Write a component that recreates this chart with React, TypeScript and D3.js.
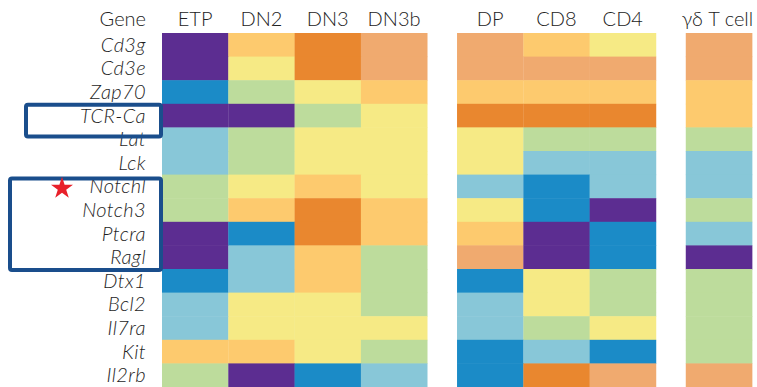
import * as d3 from 'd3';
import React, {useEffect, useRef} from 'react';

// expression level per gene, 0 = lowest (purple) .. 7 = highest (orange)
const stages = ["ETP", "DN2", "DN3", "DN3b", "DP", "CD8", "CD4", "γδ T cell"];
const stageGroup = [0, 0, 0, 0, 1, 1, 1, 2];
const genes = ["Cd3g", "Cd3e", "Zap70", "TCR-Ca", "Lat", "Lck", "Notchl", "Notch3", "Ptcra", "Ragl", "Dtx1", "Bcl2", "Il7ra", "Kit", "Il2rb"];

const levels = [
  [0, 5, 7, 6, 6, 5, 4, 6],
  [0, 4, 7, 6, 6, 6, 6, 6],
  [1, 3, 4, 5, 5, 5, 5, 5],
  [0, 0, 3, 4, 7, 7, 7, 5],
  [2, 3, 4, 4, 4, 3, 3, 3],
  [2, 3, 4, 4, 4, 2, 2, 2],
  [3, 4, 5, 4, 2, 1, 2, 2],
  [3, 5, 7, 5, 4, 1, 0, 3],
  [0, 1, 7, 5, 5, 0, 1, 2],
  [0, 2, 5, 3, 6, 0, 1, 0],
  [1, 2, 5, 3, 1, 4, 3, 3],
  [2, 4, 4, 3, 2, 4, 3, 3],
  [2, 4, 4, 4, 2, 3, 4, 3],
  [5, 5, 4, 3, 1, 2, 1, 3],
  [3, 0, 1, 2, 1, 7, 6, 6],
];

const palette = ["#5c2d91", "#1b8bc7", "#88c7d8", "#bddc9c", "#f6ea85", "#fdca6e", "#f0aa6f", "#e9872f"];

const boxedGenes = [["TCR-Ca", "TCR-Ca"], ["Notchl", "Ragl"]];
const starGene = "Notchl";

const App = () => {
  const ref = useRef(null);

  useEffect(() => {
    const svg = d3.select(ref.current);
    svg.selectAll("*").remove();

    const gap = 0.45;
    const x = d3.scaleLinear().domain([0, 1]).range([162, 228.3]);
    const colPos = (i) => i + stageGroup[i] * gap;
    const cw = x(1) - x(0);

    const y = d3.scaleBand().domain(genes).range([33, 387]).padding(0);
    const color = d3.scaleOrdinal().domain(d3.range(palette.length)).range(palette);

    const font = "Lato, 'Open Sans', sans-serif";

    // cells
    const cells = [];
    levels.forEach((row, r) => row.forEach((v, c) => cells.push({gene: genes[r], c, v})));
    svg.append("g").selectAll("rect").data(cells).enter().append("rect")
      .attr("x", d => x(colPos(d.c)))
      .attr("y", d => y(d.gene))
      .attr("width", cw + 0.3)
      .attr("height", y.bandwidth() + 0.5)
      .attr("fill", d => color(d.v));

    // column headers
    svg.append("g").selectAll("text").data(stages).enter().append("text")
      .attr("x", (d, i) => i === 7 ? x(colPos(i)) - 4 : x(colPos(i) + 0.5))
      .attr("y", 26)
      .attr("text-anchor", (d, i) => i === 7 ? "start" : "middle")
      .attr("font-family", font)
      .attr("font-size", 20)
      .attr("font-weight", 300)
      .attr("fill", "#222")
      .text(d => d);

    svg.append("text")
      .attr("x", 146).attr("y", 26)
      .attr("text-anchor", "end")
      .attr("font-family", font).attr("font-size", 20)
      .attr("font-weight", 300)
      .attr("fill", "#222")
      .text("Gene");

    // gene labels
    svg.append("g").selectAll("text").data(genes).enter().append("text")
      .attr("x", 146)
      .attr("y", d => y(d) + y.bandwidth() / 2 + 7)
      .attr("text-anchor", "end")
      .attr("font-family", font)
      .attr("font-style", "italic")
      .attr("font-weight", 300)
      .attr("font-size", 20)
      .attr("letter-spacing", 0.4)
      .attr("fill", "#1e1e1e")
      .text(d => d);

    // highlight boxes
    svg.append("g").selectAll("rect").data(boxedGenes).enter().append("rect")
      .attr("x", (d, i) => i === 0 ? 26 : 10)
      .attr("y", d => y(d[0]) + (d[0] === starGene ? 4 : 1))
      .attr("width", (d, i) => i === 0 ? 135 : 151)
      .attr("height", d => y(d[1]) + y.bandwidth() - y(d[0]) + (d[0] === starGene ? -3 : 8))
      .attr("rx", 2)
      .attr("fill", "none")
      .attr("stroke", "#1a4e8c")
      .attr("stroke-width", 4);

    // star marker
    const star = d3.symbol().type(d3.symbolStar).size(150);
    svg.append("path")
      .attr("d", star())
      .attr("transform", `translate(62,${y(starGene) + y.bandwidth() / 2 + 2})`)
      .attr("fill", "#e8202a");
  });

  return (
    <svg ref={ref} width={757} height={387} style={{position: "absolute", left: 0, top: 0, background: "#fff"}}></svg>
  );
};

export default App;
